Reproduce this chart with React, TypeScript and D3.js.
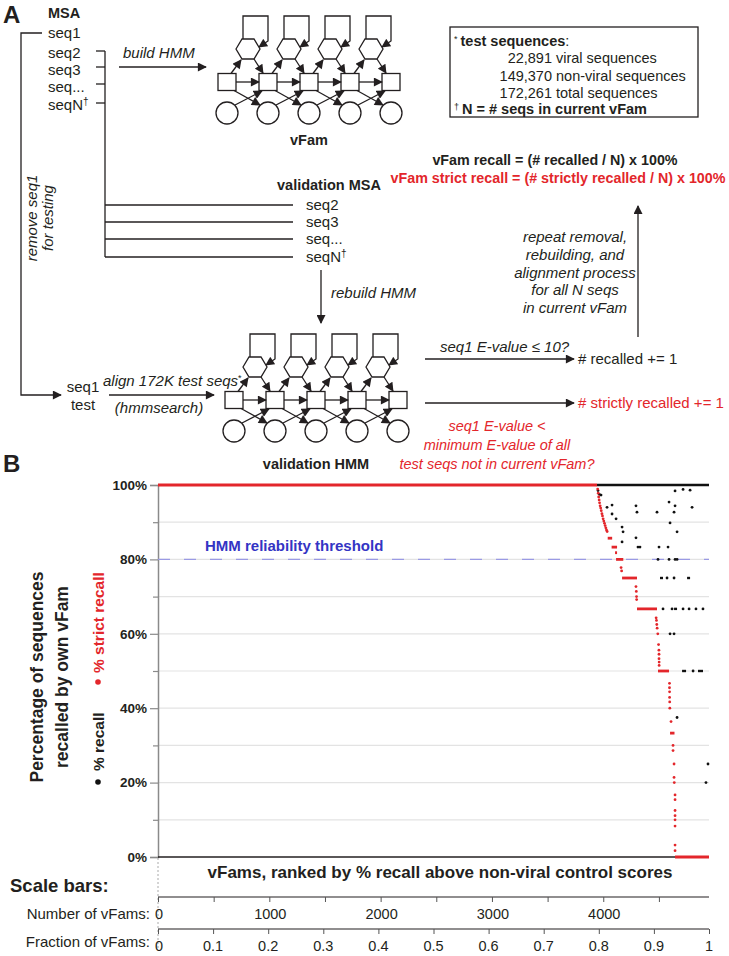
import * as d3 from "d3";
import { useEffect, useRef } from "react";

const RED = "#e3262b";
const BLUE = "#3434c4";
const FONT = "'Liberation Sans', Arial, sans-serif";

// panel B: vFams ranked along x, recall % along y
const N_VFAMS = 4950;
const yMajorTicks = [0, 20, 40, 60, 80, 100];
const yMinorTicks = [10, 30, 50, 70, 90];
const numberTicks = [0, 500, 1000, 1500, 2000, 2500, 3000, 3500, 4000, 4500];
const numberLabels = [0, 1000, 2000, 3000, 4000];
const fractionTicks = [0, 0.1, 0.2, 0.3, 0.4, 0.5, 0.6, 0.7, 0.8, 0.9, 1];
const reliabilityThreshold = 80;

// runs of vFams sharing one value: [first rank, last rank, %]
const strictRuns = [
  [0, 3944, 100],
  [4040, 4080, 85.7],
  [4075, 4124, 83.3],
  [4106, 4124, 81.8],
  [4115, 4180, 80],
  [4169, 4303, 75],
  [4303, 4483, 66.7],
  [4492, 4591, 50],
  [4600, 4640, 33.3],
  [4645, 4950, 0],
];

const strictPoints = [
  [3950, 98.9], [3955, 97.8], [3959, 96.8], [3963, 96], [3967, 95.2], [3972, 94.4],
  [3977, 93.8], [3982, 93.1], [3988, 92.3], [3993, 91.7], [3999, 90.9], [4005, 90.3],
  [4011, 89.7], [4017, 89.1], [4023, 88.5], [4029, 87.9], [4035, 87.5],
  [4160, 77.8], [4165, 76.9],
  [4294, 72.7], [4297, 71.4], [4299, 70], [4300, 69.2],
  [4475, 64.3], [4478, 63.6], [4481, 62.5], [4484, 61.5], [4490, 60], [4497, 57.1],
  [4500, 55.6], [4501, 54.5], [4501, 53.3], [4502, 52.4], [4502, 51.5],
  [4595, 46.7], [4595, 45.5], [4596, 44.4], [4596, 42.9], [4597, 41.7], [4598, 40],
  [4609, 36.4], [4627, 30], [4627, 28.6], [4636, 25], [4636, 21.4], [4638, 20],
  [4645, 16.7], [4645, 15.4], [4645, 12.5], [4645, 11.1], [4645, 10], [4645, 8.3],
  [4645, 3.2], [4645, 1.7],
];

const recallRuns = [
  [3944, 4950, 100],
  [4510, 4537, 75],
  [4753, 4780, 75],
  [4636, 4663, 66.7],
  [4708, 4744, 50],
  [4851, 4896, 50],
];

const recallPoints = [
  [3953, 98.5], [3965, 97.5], [3980, 97.3], [4034, 94], [4079, 94.6], [4079, 92.2],
  [4115, 90.9], [4169, 88.7], [4178, 87.4], [4169, 84.7], [4294, 94.4], [4303, 92.7],
  [4294, 85.8], [4312, 83.3], [4330, 83.3], [4483, 92.7], [4501, 83.3], [4582, 83.3],
  [4492, 80], [4591, 80], [4645, 80], [4663, 80], [4645, 98.4], [4591, 95.4],
  [4645, 94.4], [4636, 92.7], [4600, 89.8], [4663, 87.4], [4798, 94], [4717, 98.8],
  [4780, 98.6], [4573, 75], [4636, 75], [4537, 66.7], [4618, 66.7], [4717, 66.7],
  [4771, 66.7], [4833, 66.7], [4896, 66.7], [4600, 60], [4636, 60], [4807, 50],
  [4663, 37.5], [4941, 25], [4923, 20],
];

// panel A: profile HMM columns (match states), insert states sit between them
const hmmColumns = [0, 1, 2, 3, 4];
const testSetLines = [
  ["22,891", "viral sequences"],
  ["149,370", "non-viral sequences"],
  ["172,261", "total sequences"],
];
const repeatLines = [
  "repeat removal,",
  "rebuilding, and",
  "alignment process",
  "for all N seqs",
  "in current vFam",
];
const strictQuestion = [
  "seq1 E-value <",
  "minimum E-value of all",
  "test seqs not in current vFam?",
];

function addText(g: any, x: number, y: number, s: string, o: any = {}) {
  return g
    .append("text")
    .attr("x", x)
    .attr("y", y)
    .attr("font-size", o.size || 15)
    .attr("font-weight", o.weight || "normal")
    .attr("font-style", o.style || "normal")
    .attr("text-anchor", o.anchor || "start")
    .attr("fill", o.fill || "#231f20")
    .text(s);
}

function arrow(g: any, pts: number[][], marker = "arrow") {
  g.append("path")
    .attr("d", d3.line()(pts as any))
    .attr("fill", "none")
    .attr("stroke", "#231f20")
    .attr("stroke-width", 1.3)
    .attr("marker-end", `url(#${marker})`);
}

function drawHmm(g: any, ox: number, oy: number) {
  const step = 41;
  const mx = hmmColumns.map((i) => ox + i * step);
  const between = hmmColumns.slice(0, -1);
  const line = (pts: number[][], mk?: string) => {
    const p = g
      .append("path")
      .attr("d", d3.line()(pts as any))
      .attr("fill", "none")
      .attr("stroke", "#231f20")
      .attr("stroke-width", 1.3);
    if (mk) p.attr("marker-end", `url(#${mk})`);
  };

  // insert self loops
  between.forEach((i) => {
    const hx = mx[i] + 21, hy = oy - 33;
    line([[hx - 5, hy - 10], [hx - 5, oy - 66], [hx + 20, oy - 66], [hx + 20, hy - 8], [hx + 11, hy - 2]], "arrowSmall");
  });

  hmmColumns.forEach((i) => {
    g.append("rect").attr("x", mx[i] - 9).attr("y", oy - 8.5).attr("width", 18).attr("height", 17)
      .attr("fill", "#fff").attr("stroke", "#231f20").attr("stroke-width", 1.3);
    g.append("circle").attr("cx", mx[i]).attr("cy", oy + 31).attr("r", 11)
      .attr("fill", "#fff").attr("stroke", "#231f20").attr("stroke-width", 1.3);
  });
  between.forEach((i) => {
    const hx = mx[i] + 21, hy = oy - 33;
    const hex = [[hx - 12, hy], [hx - 6, hy - 10], [hx + 6, hy - 10], [hx + 12, hy], [hx + 6, hy + 10], [hx - 6, hy + 10]];
    g.append("path").attr("d", "M" + hex.join("L") + "Z")
      .attr("fill", "#fff").attr("stroke", "#231f20").attr("stroke-width", 1.3);
  });

  between.forEach((i) => {
    const x0 = mx[i], x1 = mx[i + 1], hx = x0 + 21, hy = oy - 33;
    line([[x0 + 9, oy], [x1 - 9, oy]], "arrowSmall");
    line([[x0 + 4, oy - 8.5], [hx - 7, hy + 11]], "arrowSmall");
    line([[hx + 6, hy + 10], [x1 - 5, oy - 9]], "arrowSmall");
    line([[x0 + 7, oy + 8.5], [x1 - 8, oy + 23]], "arrowSmall");
    line([[x0 + 8, oy + 23], [x1 - 6, oy + 9]], "arrowSmall");
  });
}

export default function App() {
  const ref = useRef<SVGSVGElement>(null);

  useEffect(() => {
    const svg = d3.select(ref.current);
    svg.selectAll("*").remove();

    const defs = svg.append("defs");
    [["arrow", 11, 9], ["arrowSmall", 10, 9]].forEach(([id, w, h]) => {
      defs.append("marker")
        .attr("id", id as string)
        .attr("viewBox", "0 0 10 10")
        .attr("refX", 9)
        .attr("refY", 5)
        .attr("markerUnits", "userSpaceOnUse")
        .attr("markerWidth", w as number)
        .attr("markerHeight", h as number)
        .attr("orient", "auto")
        .append("path")
        .attr("d", "M0,0L10,5L0,10Z")
        .attr("fill", "#231f20");
    });

    // ---------- panel A ----------
    const a = svg.append("g");
    addText(a, 3, 23, "A", { size: 24, weight: "bold" });
    addText(a, 48, 18, "MSA", { size: 14.5, weight: "bold" });
    addText(a, 48, 38, "seq1");
    addText(a, 48, 58, "seq2");
    addText(a, 48, 75, "seq3");
    addText(a, 48, 92, "seq...");
    addText(a, 48, 110, "seqN").append("tspan").attr("dy", -5).attr("font-size", 10).text("†");

    // seq1 pulled out for testing
    arrow(a, [[42, 33], [21, 33], [21, 395], [61, 395]], "arrow");
    // remaining seqs bracket
    [51, 67, 84, 103].forEach((y) => {
      a.append("line").attr("x1", 96).attr("x2", 105).attr("y1", y).attr("y2", y)
        .attr("stroke", "#231f20").attr("stroke-width", 1.3);
    });
    a.append("line").attr("x1", 105).attr("x2", 105).attr("y1", 51).attr("y2", 257)
      .attr("stroke", "#231f20").attr("stroke-width", 1.3);
    [205, 222, 239, 257].forEach((y) => {
      a.append("line").attr("x1", 105).attr("x2", 293).attr("y1", y).attr("y2", y)
        .attr("stroke", "#231f20").attr("stroke-width", 1.3);
    });
    addText(a, 277, 190, "validation MSA", { size: 14.5, weight: "bold" });
    addText(a, 306, 210, "seq2");
    addText(a, 306, 227, "seq3");
    addText(a, 306, 244, "seq...");
    addText(a, 306, 262, "seqN").append("tspan").attr("dy", -5).attr("font-size", 10).text("†");

    addText(a, 0, 0, "remove seq1", { style: "italic", anchor: "middle" })
      .attr("transform", "translate(37,218) rotate(-90)");
    addText(a, 0, 0, "for testing", { style: "italic", anchor: "middle" })
      .attr("transform", "translate(53,218) rotate(-90)");

    addText(a, 123, 58, "build HMM", { style: "italic" });
    arrow(a, [[119, 67], [206, 67]]);

    drawHmm(a, 227, 82);
    addText(a, 309, 145, "vFam", { size: 14.5, weight: "bold", anchor: "middle" });

    addText(a, 331, 298, "rebuild HMM", { style: "italic" });
    arrow(a, [[321, 270], [321, 323]]);

    drawHmm(a, 234, 400);
    addText(a, 316, 469, "validation HMM", { size: 14.5, weight: "bold", anchor: "middle" });

    addText(a, 83, 392, "seq1", { anchor: "middle" });
    addText(a, 83, 410, "test", { anchor: "middle" });
    const al = addText(a, 103, 386, "align 172K test seqs", { style: "italic" });
    al.append("tspan").attr("dy", -5).attr("font-size", 9).attr("font-style", "normal").text("*");
    arrow(a, [[109, 395], [214, 395]]);
    addText(a, 159, 413, "(hmmsearch)", { style: "italic", anchor: "middle" });

    // test set box
    a.append("rect").attr("x", 450).attr("y", 27).attr("width", 248).attr("height", 90)
      .attr("fill", "none").attr("stroke", "#231f20").attr("stroke-width", 1.3);
    const t1 = addText(a, 454, 46, "", { size: 14.5 });
    t1.append("tspan").attr("font-size", 9).attr("dy", -4).text("*");
    t1.append("tspan").attr("dy", 4).attr("dx", 3).attr("font-weight", "bold").text("test sequences");
    t1.append("tspan").text(":");
    testSetLines.forEach(([n, label], i) => {
      addText(a, 552, 63 + i * 17.5, n, { size: 14.5, anchor: "end" });
      addText(a, 556, 63 + i * 17.5, label, { size: 14.5 });
    });
    const t5 = addText(a, 454, 114, "", { size: 14.5 });
    t5.append("tspan").attr("font-size", 9).attr("dy", -4).text("†");
    t5.append("tspan").attr("dy", 4).attr("dx", 3).attr("font-weight", "bold").text("N = # seqs in current vFam");

    addText(a, 555, 165, "vFam recall = (# recalled / N) x 100%", { size: 14.3, weight: "bold", anchor: "middle" });
    addText(a, 558, 183, "vFam strict recall = (# strictly recalled / N) x 100%", { size: 14.3, weight: "bold", anchor: "middle", fill: RED });

    arrow(a, [[638, 337], [638, 206]]);
    repeatLines.forEach((s, i) => {
      addText(a, 575, 242 + i * 17.8, s, { style: "italic", anchor: "middle" });
    });

    addText(a, 440, 352, "seq1 E-value ≤ 10?", { style: "italic" });
    arrow(a, [[425, 359], [574, 359]]);
    addText(a, 578, 364, "# recalled += 1");
    arrow(a, [[425, 403], [574, 403]]);
    addText(a, 578, 408, "# strictly recalled += 1", { fill: RED });
    strictQuestion.forEach((s, i) => {
      addText(a, 497, 431 + i * 19, s, { size: 14.5, style: "italic", anchor: "middle", fill: RED });
    });

    // ---------- panel B ----------
    const b = svg.append("g");
    addText(b, 3, 472, "B", { size: 24, weight: "bold" });

    const x = d3.scaleLinear().domain([0, N_VFAMS]).range([158, 709]);
    const y = d3.scaleLinear().domain([0, 100]).range([857, 485]);

    // grid
    b.selectAll("line.grid")
      .data([10, 20, 30, 40, 50, 60, 70, 80, 90])
      .enter()
      .append("line")
      .attr("x1", x(0)).attr("x2", x(N_VFAMS))
      .attr("y1", (d) => y(d)).attr("y2", (d) => y(d))
      .attr("stroke", "#e3e3e3").attr("stroke-width", 1.2);

    // y axis
    const yAxis = b.append("g").attr("transform", `translate(${x(0)},0)`)
      .call(d3.axisLeft(y).tickValues(yMajorTicks).tickSize(8).tickPadding(3).tickFormat((d) => `${d}%`));
    yAxis.select(".domain").attr("stroke", "#8a8a8a").attr("stroke-width", 1.5);
    yAxis.selectAll(".tick line").attr("stroke", "#8a8a8a").attr("stroke-width", 1.2);
    yAxis.selectAll(".tick text").attr("font-size", 13.5).attr("font-weight", "bold")
      .attr("font-family", FONT).attr("fill", "#231f20");
    b.append("g").attr("transform", `translate(${x(0)},0)`)
      .call(d3.axisLeft(y).tickValues(yMinorTicks).tickSize(5).tickFormat(() => ""))
      .call((g) => g.select(".domain").remove())
      .selectAll(".tick line").attr("stroke", "#8a8a8a").attr("stroke-width", 1.2);

    // guide line under the axis down to scale bars
    b.append("line").attr("x1", x(0)).attr("x2", x(0)).attr("y1", 858).attr("y2", 950)
      .attr("stroke", "#aaa").attr("stroke-dasharray", "2,2");

    // bottom axis line
    b.append("line").attr("x1", x(0)).attr("x2", x(N_VFAMS)).attr("y1", 857).attr("y2", 857)
      .attr("stroke", "#231f20").attr("stroke-width", 1.3);

    // threshold
    b.append("line").attr("x1", x(0)).attr("x2", x(N_VFAMS))
      .attr("y1", y(reliabilityThreshold)).attr("y2", y(reliabilityThreshold))
      .attr("stroke", "#9a9ae4").attr("stroke-width", 1.3).attr("stroke-dasharray", "12,14");
    addText(b, 205, 551, "HMM reliability threshold", { size: 15, weight: "bold", fill: BLUE });

    // recall (black) underneath strict recall (red)
    const drawRuns = (runs: number[][], color: string, w: number) => {
      b.selectAll(null).data(runs).enter().append("line")
        .attr("x1", (d) => x(d[0])).attr("x2", (d) => x(d[1]))
        .attr("y1", (d) => y(d[2])).attr("y2", (d) => y(d[2]))
        .attr("stroke", color).attr("stroke-width", w);
    };
    const drawPoints = (pts: number[][], color: string) => {
      b.selectAll(null).data(pts).enter().append("circle")
        .attr("cx", (d) => x(d[0])).attr("cy", (d) => y(d[1]))
        .attr("r", 1.4).attr("fill", color);
    };
    drawRuns(recallRuns, "#111", 2.4);
    drawPoints(recallPoints, "#111");
    drawRuns(strictRuns, RED, 2.8);
    drawPoints(strictPoints, RED);

    // axis titles
    addText(b, 0, 0, "Percentage of sequences", { size: 17.5, weight: "bold", anchor: "middle" })
      .attr("transform", "translate(43,677) rotate(-90)");
    addText(b, 0, 0, "recalled by own vFam", { size: 17.5, weight: "bold", anchor: "middle" })
      .attr("transform", "translate(68,677) rotate(-90)");
    b.append("circle").attr("cx", 98).attr("cy", 782).attr("r", 2.8).attr("fill", "#111");
    addText(b, 0, 0, "% recall", { size: 15.5, weight: "bold" })
      .attr("transform", "translate(104,771) rotate(-90)");
    b.append("circle").attr("cx", 98).attr("cy", 682).attr("r", 2.8).attr("fill", RED);
    addText(b, 0, 0, "% strict recall", { size: 15.5, weight: "bold", fill: RED })
      .attr("transform", "translate(104,673) rotate(-90)");

    addText(b, 440, 878, "vFams, ranked by % recall above non-viral control scores", { size: 17, weight: "bold", anchor: "middle" });

    // scale bars
    addText(b, 10, 892, "Scale bars:", { size: 18.5, weight: "bold" });
    const nScale = b.append("g").attr("transform", "translate(0,897)")
      .call(d3.axisBottom(x).tickValues(numberTicks).tickSize(5).tickFormat(() => ""));
    nScale.select(".domain").attr("stroke", "#231f20").attr("stroke-width", 1.2)
      .attr("d", `M${x(0)},0H${x(N_VFAMS)}`);
    nScale.selectAll(".tick line").attr("stroke", "#555");
    numberLabels.forEach((v) => addText(b, x(v) + 1, 919, String(v), { size: 14.5, anchor: "middle" }));
    addText(b, 150, 919, "Number of vFams:", { size: 15, anchor: "end" });

    const f = d3.scaleLinear().domain([0, 1]).range([158, 709]);
    const fScale = b.append("g").attr("transform", "translate(0,929)")
      .call(d3.axisBottom(f).tickValues(fractionTicks).tickSize(5).tickFormat(() => ""));
    fScale.select(".domain").attr("stroke", "#231f20").attr("stroke-width", 1.2)
      .attr("d", `M${f(0)},0H${f(1)}`);
    fScale.selectAll(".tick line").attr("stroke", "#555");
    fractionTicks.forEach((v) => addText(b, f(v) + (v === 0 ? 1 : 0), 951, String(v), { size: 14.5, anchor: "middle" }));
    addText(b, 150, 947, "Fraction of vFams:", { size: 15, anchor: "end" });
  }, []);

  return (
    <svg
      ref={ref}
      width={729}
      height={956}
      fontFamily={FONT}
      style={{ position: "absolute", left: 0, top: 0, background: "#fff" }}
    />
  );
}
